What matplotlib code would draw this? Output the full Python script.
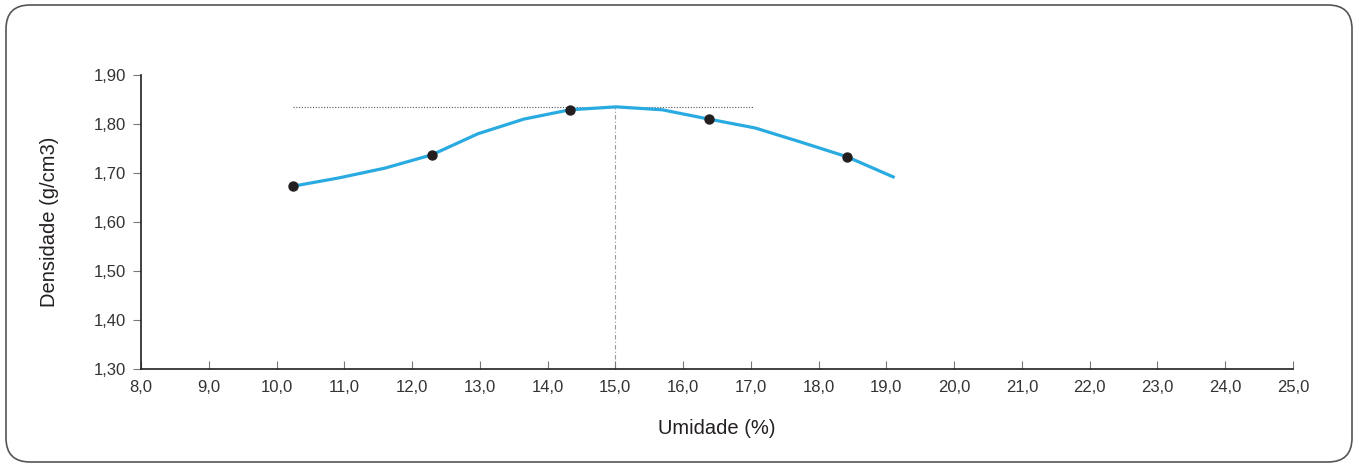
import matplotlib
matplotlib.use("Agg")
import matplotlib.pyplot as plt
from matplotlib.patches import FancyBboxPatch
from matplotlib.ticker import FuncFormatter, MultipleLocator

plt.rcParams['font.family'] = ['Liberation Sans', 'DejaVu Sans']

# Fitted curve
curve_x = [10.24, 10.92, 11.60, 12.29, 12.97, 13.65, 14.33, 15.01, 15.69, 16.38, 17.06, 17.74, 18.42, 19.10]
curve_y = [1.673, 1.690, 1.710, 1.737, 1.780, 1.810, 1.829, 1.835, 1.829, 1.810, 1.792, 1.763, 1.733, 1.692]
# Measured points
pts_x = [10.24, 12.29, 14.33, 16.38, 18.42]
pts_y = [1.673, 1.737, 1.829, 1.810, 1.733]
# Optimum
opt_x = 15.0
opt_y = 1.835
hline_x = [10.24, 17.03]

fig = plt.figure(figsize=(13.59, 4.67), dpi=100)

# background frame axes in pixel units
bg = fig.add_axes([0, 0, 1, 1], zorder=-1)
bg.set_xlim(0, 1359)
bg.set_ylim(0, 467)
bg.axis('off')
bg.add_patch(FancyBboxPatch((6, 5), 1346, 457,
                            boxstyle="round,pad=0,rounding_size=24",
                            fill=False, edgecolor='#555555', lw=1.2))

ax = fig.add_axes([0.1038, 0.2099, 0.8476, 0.6295])
ax.patch.set_alpha(0)

ax.plot(hline_x, [opt_y, opt_y], color='#555555', lw=0.8, ls=(0, (1, 1.5)), zorder=1)
ax.plot([opt_x, opt_x], [1.30, opt_y], color='#999999', lw=0.8, ls=(0, (4, 2, 1, 2)), zorder=1)
ax.plot(curve_x, curve_y, color='#29abe2', lw=2.3, zorder=2)
ax.scatter(pts_x, pts_y, color='#231f20', s=42, zorder=3)

ax.set_xlim(8.0, 25.0)
ax.set_ylim(1.30, 1.90)
ax.xaxis.set_major_locator(MultipleLocator(1.0))
ax.yaxis.set_major_locator(MultipleLocator(0.1))
ax.xaxis.set_major_formatter(FuncFormatter(lambda v, p: f"{v:.1f}".replace('.', ',')))
ax.yaxis.set_major_formatter(FuncFormatter(lambda v, p: f"{v:.2f}".replace('.', ',')))

for s in ['top', 'right']:
    ax.spines[s].set_visible(False)
for s in ['left', 'bottom']:
    ax.spines[s].set_color('#231f20')
    ax.spines[s].set_linewidth(1.2)
ax.tick_params(axis='x', direction='in', length=6, width=0.8, color='#777777',
               labelsize=12, labelcolor='#333333', pad=8)
ax.tick_params(axis='y', direction='out', length=6, width=0.8, color='#777777',
               labelsize=12, labelcolor='#333333', pad=5)

ax.set_xlabel('Umidade (%)', fontsize=14.5, color='#231f20', labelpad=17)
ax.set_ylabel('Densidade (g/cm3)', fontsize=14.5, color='#231f20', labelpad=25)

fig.savefig('out.png', dpi=100)
